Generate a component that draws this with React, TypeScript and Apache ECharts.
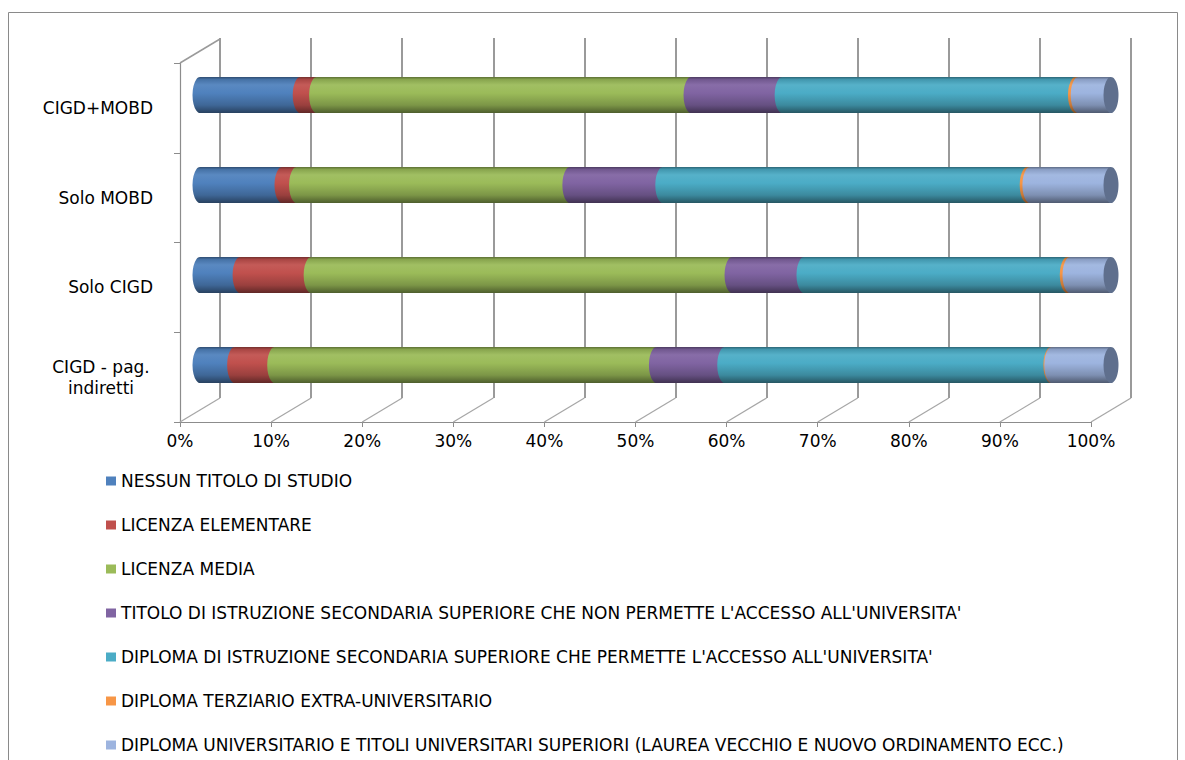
import React, { useEffect, useRef } from "react";
import * as echarts from "echarts";

// ---- data ----
const categories = ["CIGD - pag. indiretti", "Solo CIGD", "Solo MOBD", "CIGD+MOBD"];
const seriesNames = [
  "NESSUN TITOLO DI STUDIO",
  "LICENZA ELEMENTARE",
  "LICENZA MEDIA",
  "TITOLO DI ISTRUZIONE SECONDARIA SUPERIORE CHE NON PERMETTE L'ACCESSO ALL'UNIVERSITA'",
  "DIPLOMA DI ISTRUZIONE SECONDARIA SUPERIORE CHE PERMETTE L'ACCESSO ALL'UNIVERSITA'",
  "DIPLOMA TERZIARIO EXTRA-UNIVERSITARIO",
  "DIPLOMA UNIVERSITARIO E TITOLI UNIVERSITARI SUPERIORI (LAUREA VECCHIO E NUOVO ORDINAMENTO ECC.)",
];
const nessunTitolo = [3.8, 4.4, 9.0, 11.0];
const licenzaElementare = [4.4, 7.8, 1.6, 1.8];
const licenzaMedia = [41.9, 46.2, 30.0, 41.1];
const secondariaNonAccesso = [7.5, 7.9, 10.2, 10.0];
const secondariaAccesso = [35.8, 28.9, 40.0, 32.2];
const terziario = [0.1, 0.3, 0.3, 0.3];
const universitario = [6.5, 4.5, 8.9, 3.6];
const seriesValues = [
  nessunTitolo,
  licenzaElementare,
  licenzaMedia,
  secondariaNonAccesso,
  secondariaAccesso,
  terziario,
  universitario,
];
const tickValues = [0, 10, 20, 30, 40, 50, 60, 70, 80, 90, 100];

// ---- style ----
const colors = ["#4F81BD", "#C0504D", "#9BBB59", "#8064A2", "#4BACC6", "#F79646", "#9DB4DF"];
const FONT = "DejaVu Sans";

// layout (3D frame)
const FRONT_LEFT = 180;
const FRONT_RIGHT = 1091;
const FRONT_TOP = 63;
const FRONT_BOTTOM = 422;
const DX = 40;
const DY = 24;
const W = 1185;
const H = 760;

function hexToRgb(h: string) {
  const n = parseInt(h.slice(1), 16);
  return [(n >> 16) & 255, (n >> 8) & 255, n & 255];
}
function shade(h: string, f: number) {
  const [r, g, b] = hexToRgb(h);
  const c = (v: number) => Math.max(0, Math.min(255, Math.round(f >= 1 ? v + (255 - v) * (f - 1) : v * f)));
  return `rgb(${c(r)},${c(g)},${c(b)})`;
}
function cylGrad(h: string) {
  return new echarts.graphic.LinearGradient(0, 0, 0, 1, [
    { offset: 0, color: shade(h, 0.6) },
    { offset: 0.07, color: shade(h, 0.88) },
    { offset: 0.22, color: shade(h, 1.06) },
    { offset: 0.45, color: h },
    { offset: 0.78, color: shade(h, 0.8) },
    { offset: 1, color: shade(h, 0.5) },
  ]);
}

export default function App() {
  const ref = useRef<HTMLDivElement>(null);
  useEffect(() => {
    document.body.style.margin = "0";
    const chart = echarts.init(ref.current!, null, { renderer: "svg" });

    const barSeries: any[] = seriesNames.map((name, i) => ({
      name,
      type: "bar",
      stack: "total",
      xAxisIndex: 2,
      yAxisIndex: 2,
      barWidth: 36,
      itemStyle: { color: cylGrad(colors[i]) },
      data: seriesValues[i],
      z: 3,
    }));

    // elliptical segment starts (cylinder look), computed from the data
    const capSeries: any[] = seriesNames.map((_, i) => ({
      name: "cap" + i,
      type: "scatter",
      xAxisIndex: 2,
      yAxisIndex: 2,
      symbol: "circle",
      symbolSize: [15, 36],
      itemStyle: { color: cylGrad(colors[i]), opacity: 1 },
      z: 4 + i,
      silent: true,
      data: categories.map((c, ci) => {
        let s = 0;
        for (let k = 0; k < i; k++) s += seriesValues[k][ci];
        return [s, c];
      }),
    }));
    const endCap = {
      name: "endcap",
      type: "scatter",
      xAxisIndex: 2,
      yAxisIndex: 2,
      symbol: "circle",
      symbolSize: [15, 36],
      itemStyle: { color: "#5F6F8D", opacity: 1 },
      z: 12,
      silent: true,
      data: categories.map((c, ci) => {
        let s = 0;
        for (let k = 0; k < seriesValues.length; k++) s += seriesValues[k][ci];
        return [s, c];
      }),
    };

    const step = (FRONT_RIGHT - FRONT_LEFT) / (tickValues.length - 1);
    const floorLines = tickValues.map((_, i) => ({
      type: "line",
      shape: {
        x1: FRONT_LEFT + step * i,
        y1: FRONT_BOTTOM,
        x2: FRONT_LEFT + step * i + DX,
        y2: FRONT_BOTTOM - DY,
      },
      style: { stroke: "#a6a6a6", lineWidth: 1.2 },
      z: 1,
    }));

    chart.setOption({
      animation: false,
      backgroundColor: "#ffffff",
      grid: [
        { left: FRONT_LEFT, right: W - FRONT_RIGHT, top: FRONT_TOP, bottom: H - FRONT_BOTTOM },
        { left: FRONT_LEFT + DX, right: W - FRONT_RIGHT - DX, top: FRONT_TOP - DY - 1, bottom: H - FRONT_BOTTOM + DY },
        { left: FRONT_LEFT + DX / 2, right: W - FRONT_RIGHT - DX / 2, top: 50, bottom: H - 410 },
      ],
      xAxis: [
        {
          gridIndex: 0,
          type: "value",
          min: 0,
          max: 100,
          interval: 10,
          axisLine: { show: true, lineStyle: { color: "#8c8c8c", width: 1.2 } },
          axisTick: { show: true, length: 5, lineStyle: { color: "#8c8c8c" } },
          splitLine: { show: false },
          axisLabel: {
            formatter: "{value}%",
            fontFamily: FONT,
            fontSize: 17,
            color: "#000",
            margin: 10,
          },
        },
        {
          gridIndex: 1,
          type: "value",
          min: 0,
          max: 100,
          interval: 10,
          axisLine: { show: false },
          axisTick: { show: false },
          axisLabel: { show: false },
          splitLine: { show: true, lineStyle: { color: "#9a9a9a", width: 2 } },
        },
        {
          gridIndex: 2,
          type: "value",
          min: 0,
          max: 100,
          show: false,
        },
      ],
      yAxis: [
        {
          gridIndex: 0,
          type: "category",
          data: categories,
          axisLine: { show: true, lineStyle: { color: "#8c8c8c", width: 1.2 } },
          axisTick: { show: true, length: 6, lineStyle: { color: "#8c8c8c" } },
          axisLabel: {
            fontFamily: FONT,
            fontSize: 17,
            color: "#000",
            margin: 27,
            formatter: (v: string) =>
              v.indexOf("pag.") >= 0 ? "{c|" + v.replace("pag. ", "pag.}\n{c|") + "}" : v,
            rich: { c: { fontFamily: FONT, fontSize: 17, color: "#000", width: 104, align: "center", lineHeight: 21 } },
          },
          splitLine: { show: false },
        },
        { gridIndex: 1, type: "value", show: false },
        { gridIndex: 2, type: "category", data: categories, show: false },
      ],
      legend: {
        orient: "vertical",
        left: 106,
        top: 472,
        height: 290,
        padding: 0,
        icon: "rect",
        itemWidth: 10,
        itemHeight: 9,
        itemGap: 26,
        selectedMode: false,
        textStyle: { fontFamily: FONT, fontSize: 17, color: "#000", lineHeight: 18 },
        data: seriesNames.map((n, i) => ({ name: n, itemStyle: { color: colors[i] } })),
      },
      graphic: [
        {
          type: "rect",
          shape: { x: 8.5, y: 12.5, width: 1169, height: 800 },
          style: { fill: "none", stroke: "#8a8a8a", lineWidth: 1 },
          z: 0,
          silent: true,
        },
        {
          type: "line",
          shape: { x1: FRONT_LEFT, y1: FRONT_TOP, x2: FRONT_LEFT + DX, y2: FRONT_TOP - DY },
          style: { stroke: "#9a9a9a", lineWidth: 1.5 },
          z: 1,
        },
        ...floorLines,
      ],
      series: [...barSeries, ...capSeries, endCap],
    });
    return () => chart.dispose();
  }, []);
  return <div ref={ref} style={{ width: W, height: H }} />;
}
